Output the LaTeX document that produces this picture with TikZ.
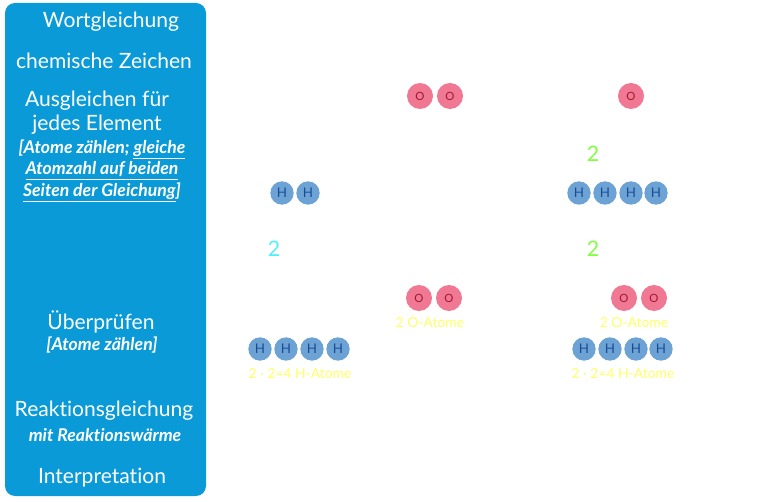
\documentclass[tikz,border=0pt]{standalone}
\usepackage{fontspec}
\setmainfont[Ligatures=NoCommon]{Lato}
\usetikzlibrary{positioning}
\definecolor{panelblue}{HTML}{0A9AD8}
\definecolor{hfill}{HTML}{6CA3D4}
\definecolor{htext}{HTML}{1A4C96}
\definecolor{ofill}{HTML}{F07892}
\definecolor{otext}{HTML}{A01830}
\definecolor{countyellow}{HTML}{FFFF66}
\definecolor{countgreen}{HTML}{7FFF3F}
\definecolor{countcyan}{HTML}{4FEFFF}

\begin{document}
\begin{tikzpicture}[
  x=0.75pt, y=-0.75pt,
  panel/.style={fill=panelblue, rounded corners=7.5pt, minimum width=150.75pt, minimum height=369.75pt, inner sep=0pt},
  headtext/.style={text=white, align=center, inner sep=0pt, font=\fontsize{15.8}{18.5}\selectfont},
  subtext/.style={text=white, align=center, inner sep=0pt, font=\fontsize{13.2}{16}\selectfont\itshape\bfseries},
  hatom/.style={circle, fill=hfill, text=htext, minimum size=17.5pt, inner sep=0pt, font=\fontsize{10}{10}\selectfont},
  oatom/.style={circle, fill=ofill, text=otext, minimum size=19.5pt, inner sep=0pt, font=\fontsize{8.5}{10}\selectfont},
  countlabel/.style={text=countyellow, inner sep=0pt, font=\fontsize{10.4}{12}\selectfont},
  factor/.style={inner sep=0pt, font=\fontsize{16}{18}\selectfont}
]
\useasboundingbox (0,0) rectangle (775,502);
\node[panel] (panel) at (105.5,249.5) {};
\node[headtext] (wort) at (111,22) {Wortgleichung};
\node[headtext] (zeichen) at (104,61) {chemische Zeichen};
\node[headtext] (ausgleich) at (97,112.5) {Ausgleichen für\\jedes Element};
\node[subtext] (regel) at (102,171) {[Atome zählen; \underline{gleiche}\\\underline{Atomzahl auf beiden}\\\underline{Seiten der Gleichung}]};
\node[headtext] (pruefen) at (101,322) {Überprüfen};
\node[subtext] (zaehlen) at (102,345) {[Atome zählen]};
\node[headtext] (reaktion) at (104,411) {Reaktionsgleichung};
\node[subtext] (waerme) at (105,435) {mit Reaktionswärme};
\node[headtext] (interpret) at (102,478) {Interpretation};

% Ausgleichen
\node[oatom] (o1) at (420,96) {O};
\node[oatom] (o2) at (450,96) {O};
\node[oatom] (o3) at (631,96) {O};
\node[factor, text=countgreen] (f1) at (593,154) {2};
\node[hatom] (h1) at (282,193) {H};
\node[hatom] (h2) at (308,193) {H};
\node[hatom] (h3) at (579,193) {H};
\node[hatom] (h4) at (605,193) {H};
\node[hatom] (h5) at (631,193) {H};
\node[hatom] (h6) at (656,193) {H};
\node[factor, text=countcyan] (f2) at (274,249) {2};
\node[factor, text=countgreen] (f3) at (593,249) {2};

% Ueberpruefen
\node[oatom] (o4) at (419,298) {O};
\node[oatom] (o5) at (449,298) {O};
\node[oatom] (o6) at (624,298) {O};
\node[oatom] (o7) at (654,298) {O};
\node[countlabel] (l1) at (430,323) {2 O-Atome};
\node[countlabel] (l2) at (634,323) {2 O-Atome};
\node[hatom] (h7) at (260,349) {H};
\node[hatom] (h8) at (286,349) {H};
\node[hatom] (h9) at (312,349) {H};
\node[hatom] (h10) at (338,349) {H};
\node[hatom] (h11) at (584,349) {H};
\node[hatom] (h12) at (610,349) {H};
\node[hatom] (h13) at (636,349) {H};
\node[hatom] (h14) at (661,349) {H};
\node[countlabel] (l3) at (300,374) {2 · 2=4 H-Atome};
\node[countlabel] (l4) at (623,374) {2 · 2=4 H-Atome};
\end{tikzpicture}
\end{document}
